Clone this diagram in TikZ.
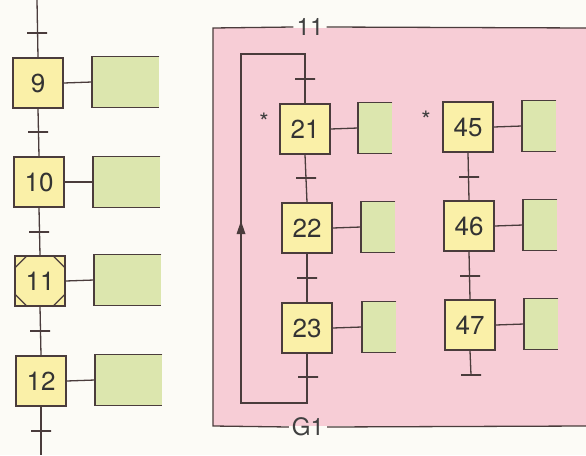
\documentclass[tikz,border=0pt]{standalone}
\usepackage{fontspec}
\setmainfont{TeX Gyre Heros}
\usetikzlibrary{arrows.meta}
\definecolor{bgc}{HTML}{FCFBF6}
\definecolor{pinkc}{HTML}{F7CDD6}
\definecolor{yelc}{HTML}{FAF0A8}
\definecolor{grnc}{HTML}{DCE6AE}
\definecolor{linec}{HTML}{4A3C3C}
\begin{document}
\begin{tikzpicture}[x=1pt,y=-1pt,
  ln/.style={draw=linec,line width=1.3pt},
  stepbox/.style={draw=linec,fill=yelc,minimum width=50pt,minimum height=50pt,inner sep=0pt,line width=1.3pt,font=\fontsize{26}{30}\selectfont,text=black!80},
  actbox/.style={fill=grnc,minimum width=#1,minimum height=50pt,inner sep=0pt,anchor=west},
  trans/.style={draw=linec,minimum width=20pt,minimum height=0pt,inner sep=0pt,line width=2pt},
  lbl/.style={font=\fontsize{24}{28}\selectfont,text=black!75,inner sep=3pt},
  star/.style={font=\fontsize{24}{24}\selectfont,text=black!75,inner sep=0pt}]
\fill[bgc] (0,0) rectangle (586,455);
\useasboundingbox (0,0) rectangle (586,455);
% ---------- left column ----------
\coordinate (ltop) at (37,0);
\coordinate (lbot) at (41,455);
\node[stepbox] (s9) at (38,83) {9};
\node[stepbox] (s10) at (39,182) {10};
\node[stepbox] (s11) at (40,281) {11};
\node[stepbox] (s12) at (41,381) {12};
\draw[ln] (ltop) -- (s9.north);
\draw[ln] (s9.south) -- (s10.north);
\draw[ln] (s10.south) -- (s11.north);
\draw[ln] (s11.south) -- (s12.north);
\draw[ln] (s12.south) -- (lbot);
\node[trans] (lt1) at (37,33) {};
\node[trans] (lt2) at (38,132) {};
\node[trans] (lt3) at (39,232) {};
\node[trans] (lt4) at (40,331) {};
\node[trans] (lt5) at (41,431) {};
% corner marks of step 11
\draw[ln] (s11.north west) ++(0,13) -- ++(13,-13);
\draw[ln] (s11.north east) ++(0,13) -- ++(-13,-13);
\draw[ln] (s11.south west) ++(0,-13) -- ++(13,13);
\draw[ln] (s11.south east) ++(0,-13) -- ++(-13,13);
% action boxes left
\foreach \s/\x/\y in {9/92/82,10/93/182,11/94/280,12/95/380}{
  \node[actbox=67pt] (a\s) at (\x,\y) {};
  \draw[ln] (a\s.north east) -- (a\s.north west) -- (a\s.south west) -- (a\s.south east);
  \draw[ln] (s\s.east) -- (a\s.west);
}
% ---------- macro frame ----------
\fill[pinkc] (213,28) rectangle (586,426);
\node[lbl] (l11) at (310,27) {11};
\node[lbl] (lg1) at (308,427) {G1};
\coordinate (ftl) at (213,28);
\coordinate (fbl) at (213,426);
\coordinate (ftr) at (586,28);
\coordinate (fbr) at (586,426);
\draw[ln] (l11.west) -- (ftl) -- (fbl) -- (lg1.west);
\draw[ln] (l11.east) -- (ftr);
\draw[ln] (lg1.east) -- (fbr);
% ---------- sequence 21-23 ----------
\node[stepbox] (s21) at (305,129) {21};
\node[stepbox] (s22) at (307,228) {22};
\node[stepbox] (s23) at (307,328) {23};
\node[star] (st21) at (264,122) {*};
\coordinate (lp1) at (305,54);
\coordinate (lp2) at (241,54);
\coordinate (lp3) at (241,221);
\coordinate (lp4) at (241,403);
\coordinate (lp5) at (307,403);
\draw[ln] (s21.south) -- (s22.north);
\draw[ln] (s22.south) -- (s23.north);
\draw[ln] (s23.south) -- (lp5) -- (lp4) -- (lp2) -- (lp1) -- (s21.north);
\fill[linec] (lp3) -- ++(-4.5,13) -- ++(9,0) -- cycle;
\node[trans] (rt1) at (305,79) {};
\node[trans] (rt2) at (306,178) {};
\node[trans] (rt3) at (307,278) {};
\node[trans] (rt4) at (308,377) {};
% ---------- sequence 45-47 ----------
\node[stepbox] (s45) at (468,127) {45};
\node[stepbox] (s46) at (469,226) {46};
\node[stepbox] (s47) at (470,325) {47};
\node[star] (st45) at (426,120) {*};
\coordinate (e47) at (471,375);
\draw[ln] (s45.south) -- (s46.north);
\draw[ln] (s46.south) -- (s47.north);
\draw[ln] (s47.south) -- (e47);
\node[trans] (rt5) at (469,177) {};
\node[trans] (rt6) at (470,276) {};
\node[trans] (rt7) at (471,375) {};
% action boxes right
\foreach \s/\x/\y in {21/358/128,22/361/227,23/362/327,45/522/126,46/523/225,47/524/324}{
  \node[actbox=34pt] (a\s) at (\x,\y) {};
  \draw[ln] (a\s.north east) -- (a\s.north west) -- (a\s.south west) -- (a\s.south east);
  \draw[ln] (s\s.east) -- (a\s.west);
}
\end{tikzpicture}
\end{document}
